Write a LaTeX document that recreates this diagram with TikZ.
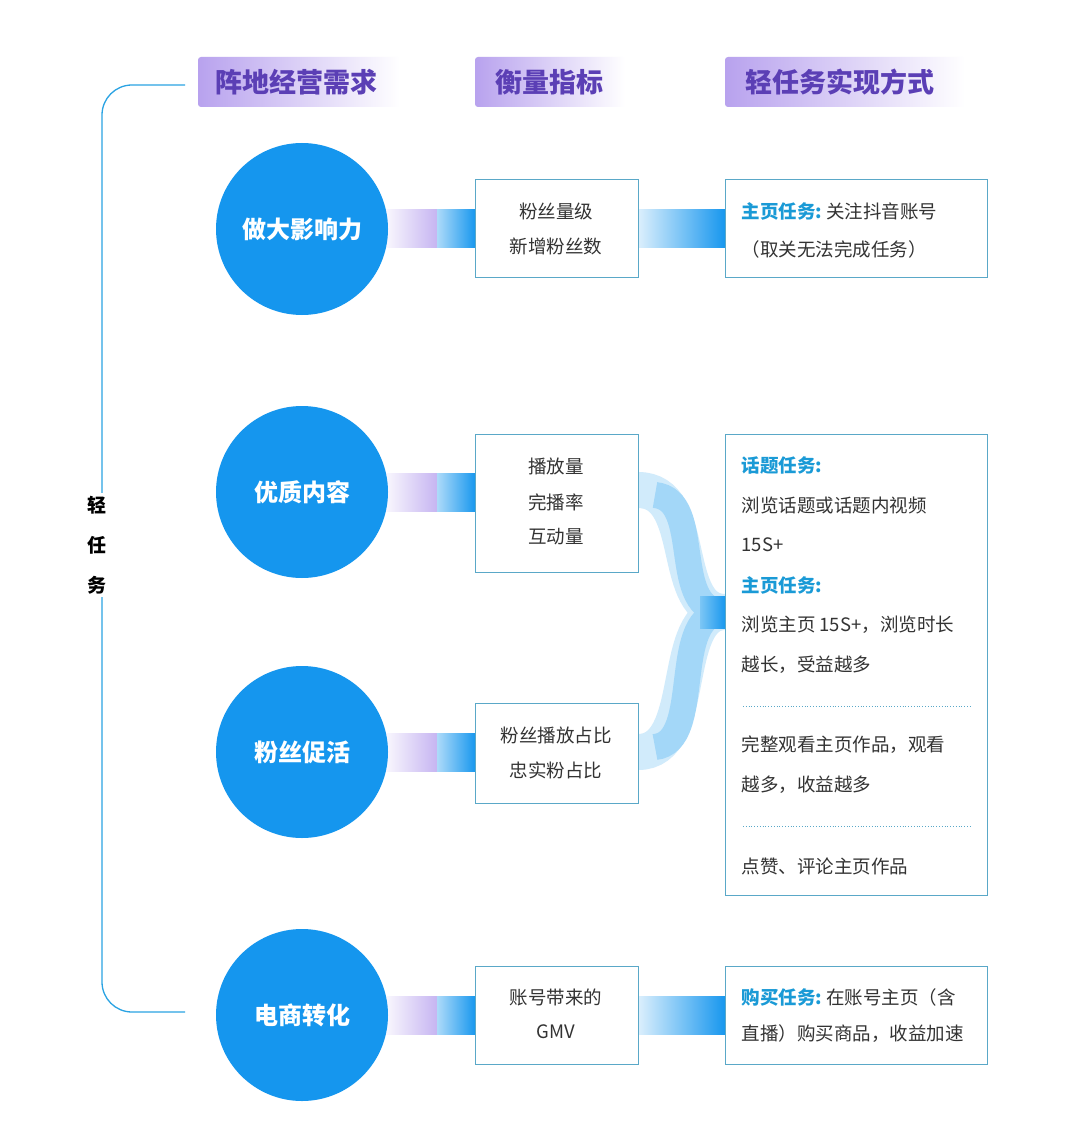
\documentclass[tikz,border=0pt]{standalone}
\usepackage{fontspec}
\setmainfont{Noto Sans CJK SC}
\definecolor{cblue}{HTML}{1596EE}
\definecolor{lblue}{HTML}{2AA3E3}
\definecolor{bord}{HTML}{5AA8C8}
\definecolor{hpur}{HTML}{B8A2EE}
\definecolor{tpur}{HTML}{5B3FB5}
\definecolor{kblue}{HTML}{1A9AD6}
\definecolor{band}{HTML}{7CC6F5}
\tikzset{
  circ/.style={circle,fill=cblue,minimum size=172pt,inner sep=0pt,text=white,font=\fontsize{24}{28}\selectfont\bfseries},
  hdr/.style={font=\fontsize{27}{30}\selectfont\bfseries,text=tpur,anchor=west},
  mbox/.style={draw=bord,line width=1pt,fill=white},
  txt/.style={font=\fontsize{18.5}{22}\selectfont,text=black!80,anchor=west},
  ctxt/.style={font=\fontsize{18.5}{22}\selectfont,text=black!80},
  key/.style={text=kblue,font=\fontsize{18.5}{22}\selectfont\bfseries},
}
\begin{document}
\begin{tikzpicture}[x=1pt,y=-1pt]
\useasboundingbox (0,0) rectangle (1080,1131);
\fill[white] (0,0) rectangle (1080,1131);
% bracket
\draw[lblue,line width=1.3pt,rounded corners=30pt] (185,85) -- (102,85) -- (102,1012) -- (185,1012);
\node[fill=white,inner sep=3pt,align=center,font=\fontsize{19}{40}\selectfont\bfseries] (lbl) at (97,545) {轻\\任\\务};
% headers
\shade[left color=hpur,right color=white,rounded corners=3pt] (198,57) rectangle (400,107);
\shade[left color=hpur,right color=white,rounded corners=3pt] (475,57) rectangle (625,107);
\shade[left color=hpur,right color=white,rounded corners=3pt] (725,57) rectangle (965,107);
\node[hdr] (h1) at (212,82) {阵地经营需求};
\node[hdr] (h2) at (492,82) {衡量指标};
\node[hdr] (h3) at (742,82) {轻任务实现方式};
% curves
\draw[line width=36pt,band!35] (638,490) .. controls (700,490) and (668,612) .. (725,612);
\draw[line width=36pt,band!35] (638,752) .. controls (700,752) and (668,612) .. (725,612);
\draw[line width=26pt,band!70] (655,495) .. controls (705,500) and (668,612) .. (725,612);
\draw[line width=26pt,band!70] (655,747) .. controls (705,742) and (668,612) .. (725,612);
\shade[left color=band,right color=cblue] (700,596) rectangle (726,628);
% bars
\foreach \y in {229,492,752,1015}{
  \shade[left color=white,right color=hpur!80] (380,\y-19) rectangle (437,\y+19);
  \shade[left color=cblue!35,right color=cblue] (437,\y-19) rectangle (476,\y+19);
}
\foreach \y in {229,1015}{
  \shade[left color=cblue!15,right color=cblue] (638,\y-19) rectangle (726,\y+19);
}
% circles
\node[circ] (c1) at (302,229) {做大影响力};
\node[circ] (c2) at (302,492) {优质内容};
\node[circ] (c3) at (302,752) {粉丝促活};
\node[circ] (c4) at (302,1015) {电商转化};
% middle boxes
\draw[mbox] (475,180) rectangle (638,278);
\draw[mbox] (475,434) rectangle (638,572);
\draw[mbox] (475,703) rectangle (638,803);
\draw[mbox] (475,966) rectangle (638,1064);
\node[ctxt] (m1a) at (556,211) {粉丝量级};
\node[ctxt] (m1b) at (556,246) {新增粉丝数};
\node[ctxt] (m2a) at (556,466) {播放量};
\node[ctxt] (m2b) at (556,502) {完播率};
\node[ctxt] (m2c) at (556,537) {互动量};
\node[ctxt] (m3a) at (556,735) {粉丝播放占比};
\node[ctxt] (m3b) at (556,770) {忠实粉占比};
\node[ctxt] (m4a) at (556,997) {账号带来的};
\node[ctxt] (m4b) at (556,1032) {GMV};
% right boxes
\draw[mbox] (725,180) rectangle (987,278);
\draw[mbox] (725,434) rectangle (987,895);
\draw[mbox] (725,966) rectangle (987,1064);
\node[txt] (r1a) at (738,211) {\textcolor{kblue}{\bfseries 主页任务:}~关注抖音账号};
\node[txt] (r1b) at (738,249) {（取关无法完成任务）};
\node[txt,key] (r2a) at (738,465) {话题任务:};
\node[txt] (r2b) at (738,505) {浏览话题或话题内视频};
\node[txt] (r2c) at (738,545) {15S+};
\node[txt,key] (r2d) at (738,585) {主页任务:};
\node[txt] (r2e) at (738,625) {浏览主页 15S+，浏览时长};
\node[txt] (r2f) at (738,665) {越长，受益越多};
\draw[bord,dotted,line width=0.8pt] (743,706) -- (972,706);
\node[txt] (r2g) at (738,745) {完整观看主页作品，观看};
\node[txt] (r2h) at (738,785) {越多，收益越多};
\draw[bord,dotted,line width=0.8pt] (743,826) -- (972,826);
\node[txt] (r2i) at (738,866) {点赞、评论主页作品};
\node[txt] (r4a) at (738,997) {\textcolor{kblue}{\bfseries 购买任务:}~在账号主页（含};
\node[txt] (r4b) at (738,1034) {直播）购买商品，收益加速};
\end{tikzpicture}
\end{document}
